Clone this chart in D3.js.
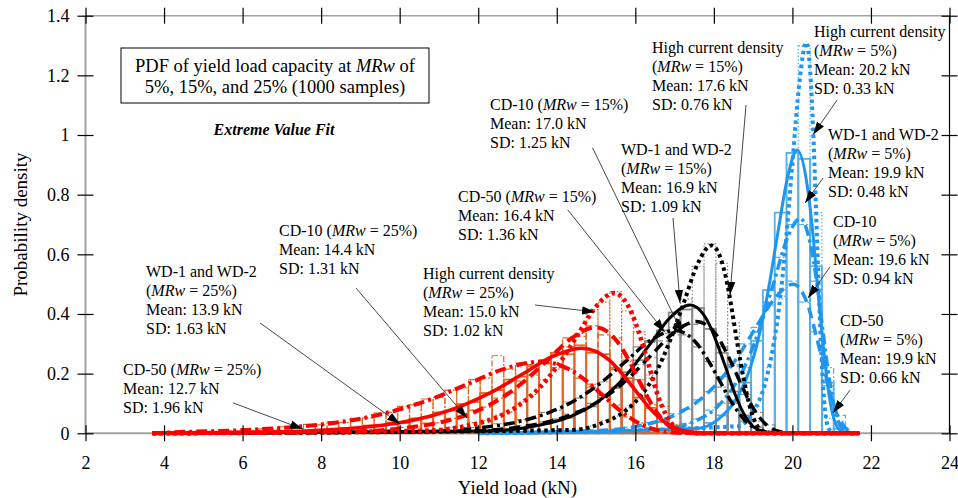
<!DOCTYPE html>
<html>
<head>
<meta charset="utf-8">
<title>PDF of yield load capacity</title>
<script src="https://cdn.jsdelivr.net/npm/d3@7"></script>
<style>
body { margin: 0; background: #fff; }
svg text { font-family: "Liberation Serif", "Times New Roman", serif; fill: #000; }
.axis .domain { display: none; }
.axis .tick line { stroke: #000; stroke-width: 1.2px; }
.axis .tick text { font-size: 18px; }
.note { font-size: 16px; }
.arrow { stroke: #333; stroke-width: 0.9px; fill: none; }
</style>
</head>
<body>
<script>

// ---- data ----
var xTicks = [2, 4, 6, 8, 10, 12, 14, 16, 18, 20, 22, 24];
var yTicks = [0, 0.2, 0.4, 0.6, 0.8, 1, 1.2, 1.4];
var yTickLabels = ["0", "0.2", "0.4", "0.6", "0.8", "1", "1.2", "1.4"];
var binWidth = 0.3;

// fitted curves [kN, density]
var redWD = [[3.7,0],[7.00,0.005],[8.53,0.014],[10.06,0.037],[10.82,0.059],[11.58,0.092],[12.34,0.138],[13.11,0.197],[13.87,0.256],[14.63,0.285],[15.33,0.246],[15.68,0.197],[16.03,0.139],[16.38,0.082],[16.73,0.039],[17.43,0.004],[18.13,0],[21.7,0]];
var redCD10 = [[3.7,0],[8.87,0.006],[10.09,0.017],[11.32,0.046],[11.93,0.073],[12.54,0.114],[13.15,0.172],[13.77,0.246],[14.38,0.319],[14.99,0.355],[15.55,0.306],[15.83,0.246],[16.11,0.173],[16.39,0.103],[16.67,0.049],[17.24,0.004],[17.80,0],[21.7,0]];
var redHCD = [[3.7,0],[10.69,0.009],[11.64,0.023],[12.60,0.061],[13.07,0.097],[13.55,0.151],[14.03,0.228],[14.51,0.325],[14.98,0.422],[15.46,0.47],[15.90,0.405],[16.12,0.326],[16.34,0.229],[16.55,0.136],[16.77,0.065],[17.21,0.006],[17.65,0],[21.7,0]];
var redCD50 = [[3.7,0],[4.41,0.004],[6.25,0.012],[8.08,0.031],[9.00,0.049],[9.91,0.077],[10.83,0.116],[11.75,0.166],[12.66,0.216],[13.58,0.24],[14.42,0.207],[14.84,0.166],[15.26,0.117],[15.68,0.069],[16.10,0.033],[16.94,0.003],[17.78,0],[21.7,0]];

var blackWD = [[3.7,0],[12.29,0.008],[13.31,0.021],[14.33,0.055],[14.84,0.088],[15.35,0.138],[15.86,0.209],[16.37,0.298],[16.88,0.387],[17.39,0.43],[17.86,0.371],[18.09,0.298],[18.33,0.210],[18.56,0.124],[18.79,0.059],[19.26,0.005],[19.73,0],[21.7,0]];
var blackCD10 = [[3.7,0],[11.71,0.007],[12.88,0.018],[14.05,0.048],[14.64,0.077],[15.22,0.120],[15.81,0.182],[16.39,0.260],[16.98,0.337],[17.56,0.375],[18.10,0.323],[18.36,0.260],[18.63,0.183],[18.90,0.108],[19.17,0.052],[19.70,0.005],[20.24,0],[21.7,0]];
var blackCD50 = [[3.7,0],[10.65,0.006],[11.92,0.017],[13.19,0.044],[13.83,0.071],[14.47,0.111],[15.10,0.167],[15.74,0.239],[16.37,0.310],[17.01,0.345],[17.59,0.297],[17.88,0.239],[18.18,0.168],[18.47,0.100],[18.76,0.048],[19.34,0.004],[19.93,0],[21.7,0]];
var blackHCD = [[3.7,0],[14.38,0.011],[15.09,0.031],[15.80,0.081],[16.16,0.129],[16.52,0.202],[16.87,0.306],[17.23,0.436],[17.58,0.566],[17.94,0.63],[18.27,0.543],[18.43,0.437],[18.59,0.307],[18.76,0.182],[18.92,0.087],[19.24,0.008],[19.57,0],[21.7,0]];

var blueWD = [[12,0],[17.60,0.017],[18.10,0.046],[18.60,0.122],[18.86,0.195],[19.11,0.305],[19.36,0.461],[19.61,0.657],[19.87,0.854],[20.12,0.95],[20.39,0.819],[20.53,0.658],[20.66,0.463],[20.80,0.275],[20.93,0.131],[21.20,0.012],[21.47,0],[21.7,0]];
var blueCD10 = [[12,0],[15.07,0.009],[16.06,0.024],[17.05,0.064],[17.55,0.103],[18.04,0.161],[18.54,0.243],[19.03,0.346],[19.53,0.449],[20.02,0.50],[20.39,0.431],[20.57,0.346],[20.76,0.244],[20.94,0.145],[21.12,0.069],[21.49,0.006],[21.7,0]];
var blueCD50 = [[12,0],[16.73,0.013],[17.42,0.035],[18.12,0.093],[18.46,0.148],[18.81,0.231],[19.16,0.349],[19.51,0.498],[19.85,0.647],[20.20,0.72],[20.48,0.620],[20.63,0.499],[20.77,0.351],[20.91,0.208],[21.05,0.099],[21.33,0.009],[21.62,0],[21.7,0]];
var blueHCD = [[12,0],[18.62,0.024],[18.96,0.064],[19.31,0.169],[19.48,0.269],[19.66,0.421],[19.83,0.636],[20.00,0.907],[20.18,1.178],[20.35,1.31],[20.49,1.129],[20.56,0.908],[20.63,0.639],[20.70,0.379],[20.77,0.181],[20.92,0.016],[21.06,0],[21.7,0]];

// histogram heights, bins of 0.3 kN from the given left edge
var redWDHist = [.01,.017,.018,.026,.027,.036,.035,.05,.054,.07,.076,.098,.105,.135,.145,.18,.19,.225,.235,.27,.265,.295,.27,.265,.215,.185,.12,.085,.038,.026,.008,.002];
var redCD10Hist = [.012,.02,.022,.034,.035,.05,.055,.078,.088,.118,.135,.175,.195,.245,.265,.32,.325,.36,.33,.32,.245,.18,.095,.05,.02,.004];
var redHCDHist = [.012,.02,.02,.036,.042,.06,.072,.105,.13,.18,.215,.29,.335,.415,.44,.475,.41,.34,.195,.09,.03,.004];
var redCD50Hist = [.01,.015,.014,.022,.02,.03,.028,.038,.036,.05,.052,.068,.07,.09,.095,.115,.12,.145,.152,.18,.185,.26,.215,.235,.23,.245,.22,.215,.185,.165,.12,.095,.055,.035,.018,.01,.002];
var blackWDHist = [.009,.015,.016,.026,.032,.047,.052,.075,.09,.128,.152,.205,.245,.31,.345,.405,.415,.42,.35,.27,.14,.06,.02,.003];
var blackCD10Hist = [.01,.016,.015,.025,.026,.038,.043,.064,.072,.1,.115,.155,.175,.23,.255,.31,.33,.365,.365,.35,.29,.225,.13,.07,.028,.005];
var blackCD50Hist = [.012,.019,.021,.032,.033,.046,.05,.07,.078,.105,.118,.155,.172,.22,.24,.29,.305,.335,.34,.33,.29,.24,.155,.1,.04,.02,.004];
var blackHCDHist = [.024,.042,.058,.085,.115,.185,.25,.355,.45,.56,.635,.57,.37,.17,.04,.004];
var blueWDHist = [.016,.035,.06,.11,.17,.31,.48,.74,.94,.92,.56,.17,.015];
var blueCD10Hist = [.014,.02,.024,.036,.042,.065,.08,.112,.14,.19,.23,.3,.355,.43,.46,.51,.44,.34,.16,.06,.006];
var blueCD50Hist = [.02,.033,.048,.078,.1,.165,.22,.34,.44,.59,.7,.7,.51,.22,.04,.003];
var blueHCDHist = [.04,.09,.22,.45,.9,1.3,.74,.05];

var histStart = {
  redWD: 8.15, redCD10: 9.65, redHCD: 10.85, redCD50: 6.05,
  blackWD: 12.35, blackCD10: 12.05, blackCD50: 11.45, blackHCD: 14.75,
  blueWD: 17.45, blueCD10: 15.35, blueCD50: 16.85, blueHCD: 18.65
};

// annotation text, anchor (kN, density), arrow start and tip
var noteLines = [
  ["CD-50 (MRw = 25%)", "Mean: 12.7 kN", "SD: 1.96 kN"],
  ["WD-1 and WD-2", "(MRw = 25%)", "Mean: 13.9 kN", "SD: 1.63 kN"],
  ["CD-10 (MRw = 25%)", "Mean: 14.4 kN", "SD: 1.31 kN"],
  ["High current density", "(MRw = 25%)", "Mean: 15.0 kN", "SD: 1.02 kN"],
  ["CD-50 (MRw = 15%)", "Mean: 16.4 kN", "SD: 1.36 kN"],
  ["CD-10 (MRw = 15%)", "Mean: 17.0 kN", "SD: 1.25 kN"],
  ["WD-1 and WD-2", "(MRw = 15%)", "Mean: 16.9 kN", "SD: 1.09 kN"],
  ["High current density", "(MRw = 15%)", "Mean: 17.6 kN", "SD: 0.76 kN"],
  ["High current density", "(MRw = 5%)", "Mean: 20.2 kN", "SD: 0.33 kN"],
  ["WD-1 and WD-2", "(MRw = 5%)", "Mean: 19.9 kN", "SD: 0.48 kN"],
  ["CD-10", "(MRw = 5%)", "Mean: 19.6 kN", "SD: 0.94 kN"],
  ["CD-50", "(MRw = 5%)", "Mean: 19.9 kN", "SD: 0.66 kN"]
];
var notePos = [[2.955,0.196],[3.541,0.524],[6.927,0.662],[10.594,0.518],[11.485,0.776],[12.300,1.085],[15.636,0.934],[16.425,1.276],[20.550,1.329],[20.907,0.984],[21.034,0.692],[21.212,0.360]];
var arrowFrom = [[5.756,0.102],[6.444,0.370],[8.888,0.487],[13.446,0.430],[14.276,0.750],[14.912,0.957],[16.960,0.722],[18.819,1.101],[21.137,1.117],[20.780,0.856],[20.958,0.558],[21.467,0.145]];
var arrowTo = [[7.538,0.014],[10.009,0.031],[11.715,0.051],[14.974,0.407],[16.746,0.340],[17.204,0.333],[17.138,0.437],[18.411,0.464],[20.526,1.001],[20.322,0.772],[20.398,0.454],[21.035,0.068]];

var titleLines = ["PDF of yield load capacity at MRw of", "5%, 15%, and 25% (1000 samples)"];

// ---- drawing ----
var W = 958, H = 498;
var x = d3.scaleLinear().domain([2, 24]).range([85.5, 949.5]);
var y = d3.scaleLinear().domain([0, 1.4]).range([433.3, 15.7]);

var colors = {
  red:   {line: "#ff0000", hist: "#e4661f"},
  black: {line: "#000000", hist: "#8c8c8c"},
  blue:  {line: "#1e96f0", hist: "#52b2ec"}
};
var lineDash = {solid: null, dash: "11,6", dashdot: "11,4,3,4", dot: "3.5,3.5"};
var histDash = {solid: null, dash: "6,3", dashdot: "6,2,2,2", dot: "1.5,2"};

var series = [
  {g: "blue", st: "solid", c: blueWD, h: blueWDHist, s: histStart.blueWD},
  {g: "blue", st: "dash", c: blueCD10, h: blueCD10Hist, s: histStart.blueCD10},
  {g: "blue", st: "dashdot", c: blueCD50, h: blueCD50Hist, s: histStart.blueCD50},
  {g: "blue", st: "dot", c: blueHCD, h: blueHCDHist, s: histStart.blueHCD},
  {g: "black", st: "solid", c: blackWD, h: blackWDHist, s: histStart.blackWD},
  {g: "black", st: "dash", c: blackCD10, h: blackCD10Hist, s: histStart.blackCD10},
  {g: "black", st: "dashdot", c: blackCD50, h: blackCD50Hist, s: histStart.blackCD50},
  {g: "black", st: "dot", c: blackHCD, h: blackHCDHist, s: histStart.blackHCD},
  {g: "red", st: "solid", c: redWD, h: redWDHist, s: histStart.redWD},
  {g: "red", st: "dash", c: redCD10, h: redCD10Hist, s: histStart.redCD10},
  {g: "red", st: "dashdot", c: redCD50, h: redCD50Hist, s: histStart.redCD50},
  {g: "red", st: "dot", c: redHCD, h: redHCDHist, s: histStart.redHCD}
];

var svg = d3.select("body").append("svg")
  .attr("width", W)
  .attr("height", H);

svg.append("defs").append("marker")
  .attr("id", "head")
  .attr("markerUnits", "userSpaceOnUse")
  .attr("markerWidth", 14)
  .attr("markerHeight", 10)
  .attr("refX", 13)
  .attr("refY", 5)
  .attr("orient", "auto")
  .append("path")
  .attr("d", "M0,0.8 L13,5 L0,9.2 Z")
  .attr("fill", "#000");

// frame: grey on three sides, black on the right
var frame = svg.append("g");
frame.append("line").attr("x1", x(2)).attr("x2", x(2)).attr("y1", y(0)).attr("y2", y(1.4))
  .attr("stroke", "#a3a3a3").attr("stroke-width", 2);
frame.append("line").attr("x1", x(2)).attr("x2", x(24)).attr("y1", y(1.4)).attr("y2", y(1.4))
  .attr("stroke", "#a3a3a3").attr("stroke-width", 1.5);
frame.append("line").attr("x1", x(2)).attr("x2", x(24)).attr("y1", y(0)).attr("y2", y(0))
  .attr("stroke", "#a3a3a3").attr("stroke-width", 2);
frame.append("line").attr("x1", x(24)).attr("x2", x(24)).attr("y1", y(0)).attr("y2", y(1.4))
  .attr("stroke", "#000").attr("stroke-width", 1.2);

// histograms
var bars = svg.append("g");
series.forEach(function(d) {
  var sol = d.st === "solid";
  bars.append("g")
    .selectAll("rect")
    .data(d.h)
    .enter().append("rect")
    .attr("x", function(v, i) { return x(d.s + i * binWidth); })
    .attr("width", x(d.s + binWidth) - x(d.s))
    .attr("y", function(v) { return y(v); })
    .attr("height", function(v) { return y(0) - y(v); })
    .attr("fill", "none")
    .attr("stroke", colors[d.g].hist)
    .attr("stroke-width", sol ? 1.8 : 1.2)
    .attr("stroke-dasharray", histDash[d.st]);
});

// fitted curves
var line = d3.line()
  .x(function(d) { return x(d[0]); })
  .y(function(d) { return y(d[1]); })
  .curve(d3.curveMonotoneX);

var order = ["dot", "dashdot", "dash", "solid"];
["blue", "black", "red"].forEach(function(g) {
  var extra = g === "red" ? 0.6 : 0;
  order.forEach(function(st) {
    series.filter(function(d) { return d.g === g && d.st === st; }).forEach(function(d) {
      svg.append("path")
        .datum(d.c)
        .attr("d", line)
        .attr("fill", "none")
        .attr("stroke", colors[g].line)
        .attr("stroke-width", (st === "solid" ? 3 : (st === "dot" ? 4 : 3.5)) + extra)
        .attr("stroke-dasharray", lineDash[st]);
    });
  });
});

// axes with ticks crossing the frame
function crossX(g) { g.selectAll(".tick line").attr("y1", -8).attr("y2", 8); }
function crossY(g) { g.selectAll(".tick line").attr("x1", -8).attr("x2", 8); }

svg.append("g").attr("class", "axis")
  .attr("transform", "translate(0," + y(0) + ")")
  .call(d3.axisBottom(x).tickValues(xTicks).tickSize(8).tickPadding(15).tickFormat(d3.format("d")))
  .call(crossX);
svg.append("g").attr("class", "axis")
  .attr("transform", "translate(0," + y(1.4) + ")")
  .call(d3.axisTop(x).tickValues(xTicks).tickSize(8).tickFormat(""))
  .call(crossX);
svg.append("g").attr("class", "axis")
  .attr("transform", "translate(" + x(2) + ",0)")
  .call(d3.axisLeft(y).tickValues(yTicks).tickSize(8).tickPadding(8)
    .tickFormat(function(d, i) { return yTickLabels[i]; }))
  .call(crossY);
svg.append("g").attr("class", "axis")
  .attr("transform", "translate(" + x(24) + ",0)")
  .call(d3.axisRight(y).tickValues(yTicks).tickSize(8).tickFormat(""))
  .call(crossY);

svg.append("text")
  .attr("x", (x(2) + x(24)) / 2)
  .attr("y", 494)
  .attr("text-anchor", "middle")
  .style("font-size", "19px")
  .text("Yield load (kN)");

svg.append("text")
  .attr("transform", "translate(27," + (y(0) + y(1.4)) / 2 + ") rotate(-90)")
  .attr("text-anchor", "middle")
  .style("font-size", "19px")
  .text("Probability density");

// text with italic MRw
function addLine(parent, str) {
  var parts = str.split("MRw");
  parent.append("tspan").text(parts[0]);
  if (parts.length > 1) {
    parent.append("tspan").style("font-style", "italic").text("MRw");
    parent.append("tspan").text(parts[1]);
  }
}

// title box
svg.append("rect")
  .attr("x", 121).attr("y", 48).attr("width", 308).attr("height", 55)
  .attr("fill", "#fff").attr("stroke", "#000").attr("stroke-width", 1);
titleLines.forEach(function(s, i) {
  var t = svg.append("text")
    .attr("x", 275).attr("y", 72 + i * 21)
    .attr("text-anchor", "middle")
    .style("font-size", "18.5px");
  addLine(t, s);
});
svg.append("text")
  .attr("x", 274).attr("y", 135)
  .attr("text-anchor", "middle")
  .style("font-size", "16px")
  .style("font-weight", "bold")
  .style("font-style", "italic")
  .text("Extreme Value Fit");

// arrows
arrowFrom.forEach(function(a, i) {
  svg.append("line")
    .attr("class", "arrow")
    .attr("x1", x(a[0])).attr("y1", y(a[1]))
    .attr("x2", x(arrowTo[i][0])).attr("y2", y(arrowTo[i][1]))
    .attr("marker-end", "url(#head)");
});

// notes
noteLines.forEach(function(lines, k) {
  lines.forEach(function(s, i) {
    var t = svg.append("text")
      .attr("class", "note")
      .attr("x", x(notePos[k][0]))
      .attr("y", y(notePos[k][1]) + i * 19);
    addLine(t, s);
  });
});

</script>
</body>
</html>
